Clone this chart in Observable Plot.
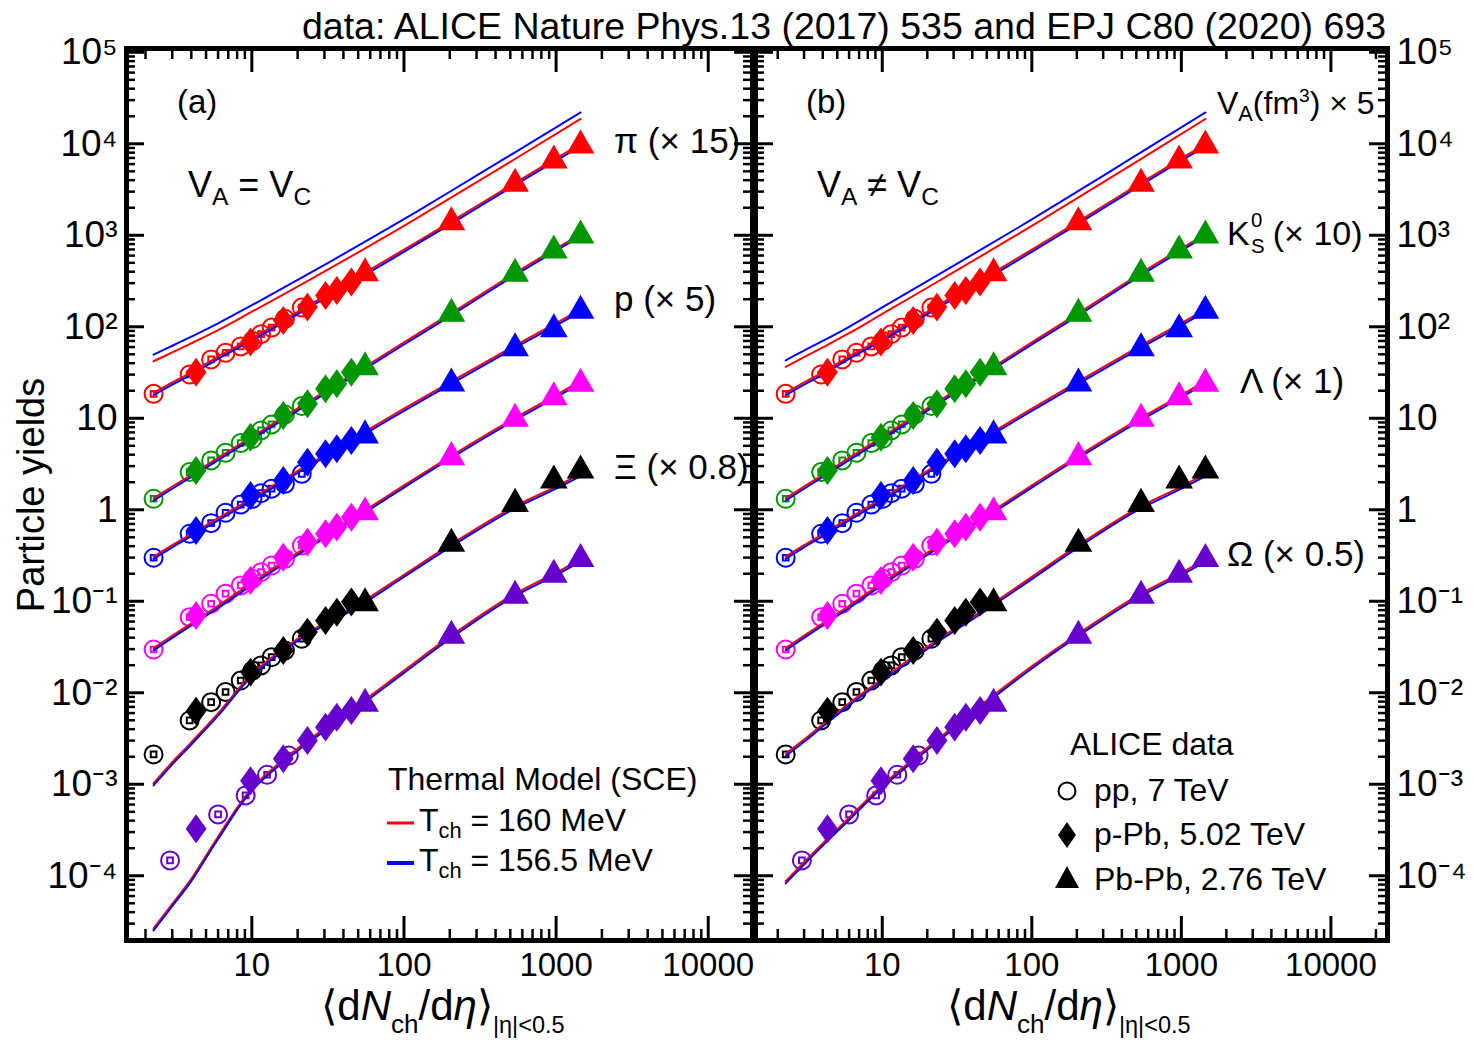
<!DOCTYPE html>
<html><head><meta charset="utf-8">
<script src="https://cdn.jsdelivr.net/npm/d3@7"></script>
<script src="https://cdn.jsdelivr.net/npm/@observablehq/plot@0.6"></script>
<style>
body{margin:0;background:#fff;}
#chart{position:relative;width:1474px;height:1043px;background:#fff;font-family:"Liberation Sans",Arial,Helvetica,sans-serif;color:#000;overflow:hidden}
#chart svg.plt{position:absolute;left:0;top:0}
.t{position:absolute;white-space:nowrap;line-height:1}
.sb{font-size:0.68em;position:relative;top:0.32em}
.sbx{font-size:0.62em;position:relative;top:0.5em}
.sb2{font-size:0.56em;position:relative;top:0.55em}
.sp{font-size:0.6em;position:relative;top:-0.6em}
.stk{display:inline-block;position:relative;width:0.68em;height:1em}
.stk .u{position:absolute;left:0.06em;top:-0.05em;font-size:0.6em}
.stk .d{position:absolute;left:0.06em;top:1.21em;font-size:0.6em}
</style></head><body><div id="chart"></div><script>
// ---------- multiplicity classes <dNch/deta> ----------
const ppX      = [2.26, 3.90, 5.40, 6.72, 8.45, 10.1, 11.5, 13.5, 16.5, 21.3];
const ppOmegaX = [2.9, 6.0, 9.1, 12.6, 17.5];
const pPbX     = [4.3, 9.8, 16.1, 23.2, 30.5, 36.2, 45.1];
const PbPbX    = [55.5, 205, 537.5, 966, 1447.5];

// ---------- measured yields (scaled) ----------
const piPP   = [18.5, 30.1, 44.0, 52, 61, 70, 83, 98, 122, 162];
const piPPb  = [31.9, 68, 117, 164, 220, 249, 308];
const piPbPb = [385, 1390, 3657, 6560, 9580];

const k0PP   = [1.32, 2.58, 3.46, 4.2, 5.35, 5.97, 7.36, 8.56, 11.0, 13.6];
const k0PPb  = [2.69, 6.2, 10.7, 14.4, 21, 23.8, 31.9];
const k0PbPb = [36.1, 139, 380, 682, 995];

const pPP    = [0.299, 0.547, 0.714, 0.927, 1.14, 1.32, 1.52, 1.70, 1.92, 2.47];
const pPPb   = [0.594, 1.43, 2.09, 3.31, 4.09, 4.65, 5.72];
const pPbPb  = [6.5, 24, 58.4, 94, 150];

const lamPP   = [0.0297, 0.067, 0.094, 0.121, 0.149, 0.176, 0.208, 0.246, 0.291, 0.407];
const lamPPb  = [0.070, 0.169, 0.303, 0.443, 0.547, 0.646, 0.830];
const lamPbPb = [0.94, 3.76, 9.9, 17.0, 23.8];

const xiPP   = [0.00212, 0.00498, 0.00789, 0.0102, 0.0136, 0.0175, 0.0199, 0.0245, 0.029, 0.0389];
const xiPPb  = [0.0063, 0.0168, 0.029, 0.046, 0.0617, 0.076, 0.098];
const xiPbPb = [0.095, 0.425, 1.16, 2.09, 2.69];

const omPP   = [1.47e-4, 4.68e-4, 7.55e-4, 1.27e-3, 2.06e-3];
const omPPb  = [3.27e-4, 1.09e-3, 1.9e-3, 3.01e-3, 4.21e-3, 5.41e-3, 6.41e-3];
const omPbPb = [7.6e-3, 0.042, 0.115, 0.195, 0.29];

// ---------- thermal model (SCE) curves ----------
const modelX   = [2.26, 3, 4, 6, 10, 20, 50, 100, 200, 500, 1000, 1450];
const piModel  = [18.5, 24, 31, 46, 73, 142, 345, 680, 1350, 3400, 6750, 9700];
const k0Model  = [1.3, 1.75, 2.35, 3.6, 6.1, 12.5, 32, 66, 134, 350, 700, 1000];
const pModel   = [0.3, 0.4, 0.53, 0.79, 1.3, 2.6, 6.3, 12.4, 24, 57, 107, 150];
const lamModel = [0.03, 0.041, 0.056, 0.087, 0.155, 0.33, 0.86, 1.8, 3.7, 9.2, 17.5, 25];
const xiModelA = [0.001, 0.0017, 0.0028, 0.0058, 0.0155, 0.038, 0.09, 0.19, 0.4, 1.0, 1.75, 2.4];
const xiModelB = [0.0021, 0.003, 0.0044, 0.0075, 0.0138, 0.031, 0.083, 0.18, 0.39, 1.0, 1.75, 2.4];
const omModelA = [2.6e-5, 4.8e-5, 9.0e-5, 2.6e-4, 8.8e-4, 2.4e-3, 7.2e-3, 0.017, 0.04, 0.11, 0.2, 0.28];
const omModelB = [8.5e-5, 1.37e-4, 2.2e-4, 4.2e-4, 9.5e-4, 2.44e-3, 8.0e-3, 0.019, 0.042, 0.11, 0.2, 0.28];
// V_A (fm^3) x 5
const vol160A = [42, 52.5, 66, 92, 146, 275, 650, 1270, 2530, 6350, 12800, 18700];
const vol156A = [49.5, 62, 78, 109, 172, 325, 770, 1500, 2990, 7500, 15100, 22000];
const vol160B = [36.5, 46.5, 59.5, 85, 138, 267, 645, 1265, 2525, 6350, 12800, 18700];
const vol156B = [43, 55, 70, 100, 163, 315, 760, 1490, 2980, 7500, 15100, 22000];

// ---------- axes ----------
const yTickValues = [1e-4, 1e-3, 1e-2, 1e-1, 1, 10, 100, 1e3, 1e4, 1e5];
const xTickValues = [10, 100, 1000, 10000];

// ---------- styling ----------
const speciesColors = ["#ff0000", "#009600", "#0000ff", "#ff00ff", "#000000", "#6600cc"];
const RED = "#ff0000", BLUE = "#0000ff";

// build tables
const ppYs = [piPP, k0PP, pPP, lamPP, xiPP, omPP];
const ppXs = [ppX, ppX, ppX, ppX, ppX, ppOmegaX];
const pPbYs = [piPPb, k0PPb, pPPb, lamPPb, xiPPb, omPPb];
const PbPbYs = [piPbPb, k0PbPb, pPbPb, lamPbPb, xiPbPb, omPbPb];
const ppData = ppYs.flatMap((ys, s) => ys.map((y, i) => ({x: ppXs[s][i], y, c: speciesColors[s]})));
const pPbData = pPbYs.flatMap((ys, s) => ys.map((y, i) => ({x: pPbX[i], y, c: speciesColors[s]})));
const PbPbData = PbPbYs.flatMap((ys, s) => ys.map((y, i) => ({x: PbPbX[i], y, c: speciesColors[s]})));
function curves(models) {
  return models.flatMap((m, s) => m.map((y, i) => ({x: modelX[i], y, k: "s" + s})));
}
const modelsA = [piModel, k0Model, pModel, lamModel, xiModelA, omModelA];
const modelsB = [piModel, k0Model, pModel, lamModel, xiModelB, omModelB];
const volTable = (arr) => arr.map((y, i) => ({x: modelX[i], y}));

// a fatter diamond than d3's default (width/height ~ 0.72)
const fatDiamond = {
  draw(context, size) {
    const a = Math.sqrt(size / 1.44), b = 0.72 * a;
    context.moveTo(0, -a); context.lineTo(b, 0); context.lineTo(0, a); context.lineTo(-b, 0); context.closePath();
  }
};

const sup = {"0":"⁰","1":"¹","2":"²","3":"³","4":"⁴","5":"⁵","6":"⁶","7":"⁷","8":"⁸","9":"⁹","-":"⁻"};
function yFmt(d) {
  const e = Math.round(Math.log10(d));
  if (e === 0) return "1";
  if (e === 1) return "10";
  return "10" + String(e).split("").map(ch => sup[ch]).join("");
}

const chart = document.getElementById("chart");
const TOP = 48, BOTTOM = 940, H = 1043, W = 1474;
const yDomain = [1.96e-5, 1.1e5];

function panel(isA) {
  const left = isA ? 126 : 755, right = isA ? 752 : 1387;
  const xDomain = isA ? [1.5, 19540] : [1.42, 23900];
  const innerW = right - left, innerH = BOTTOM - TOP;
  const inX = v => v >= xDomain[0] && v <= xDomain[1];
  const inY = v => v >= yDomain[0] && v <= yDomain[1];
  const xMajor = [1, 10, 100, 1000, 10000, 100000].filter(inX);
  const xMinor = d3.range(0, 5).flatMap(e => d3.range(2, 10).map(m => m * 10 ** e)).filter(inX);
  const yMajor = d3.range(-5, 6).map(e => 10 ** e).filter(inY);
  const yMinor = d3.range(-5, 6).flatMap(e => d3.range(2, 10).map(m => m * 10 ** e)).filter(inY);
  const lines = curves(isA ? modelsA : modelsB);
  const v160 = volTable(isA ? vol160A : vol160B), v156 = volTable(isA ? vol156A : vol156B);
  const XL = 24, XS = 11, YL = 18, YS = 9;
  const svg = Plot.plot({
    width: W, height: H,
    marginLeft: left, marginRight: W - right, marginTop: TOP, marginBottom: H - BOTTOM,
    x: {type: "log", domain: xDomain},
    y: {type: "log", domain: yDomain},
    color: {type: "identity"},
    style: {background: "transparent", fontFamily: "'Liberation Sans', Arial, sans-serif", overflow: "visible"},
    marks: [
      // inward ticks on all four sides
      Plot.tickX(xMajor, {x: d => d, insetTop: innerH - XL, strokeWidth: 3}),
      Plot.tickX(xMajor, {x: d => d, insetBottom: innerH - XL, strokeWidth: 3}),
      Plot.tickX(xMinor, {x: d => d, insetTop: innerH - XS, strokeWidth: 2.5}),
      Plot.tickX(xMinor, {x: d => d, insetBottom: innerH - XS, strokeWidth: 2.5}),
      Plot.tickY(yMajor, {y: d => d, insetRight: innerW - YL, strokeWidth: 3}),
      Plot.tickY(yMajor, {y: d => d, insetLeft: innerW - YL, strokeWidth: 3}),
      Plot.tickY(yMinor, {y: d => d, insetRight: innerW - YS, strokeWidth: 2.5}),
      Plot.tickY(yMinor, {y: d => d, insetLeft: innerW - YS, strokeWidth: 2.5}),
      // pp: open circles with small systematic boxes
      Plot.dot(ppData, {x: "x", y: "y", r: 9, symbol: "circle", fill: "none", stroke: "c", strokeWidth: 2}),
      Plot.dot(ppData, {x: "x", y: "y", r: 3.2, symbol: "square", fill: "none", stroke: "c", strokeWidth: 2}),
      // thermal model curves
      Plot.line(v160, {x: "x", y: "y", stroke: RED, strokeWidth: 2, curve: "catmull-rom"}),
      Plot.line(v156, {x: "x", y: "y", stroke: BLUE, strokeWidth: 2, curve: "catmull-rom"}),
      Plot.line(lines, {x: "x", y: "y", z: "k", stroke: RED, strokeWidth: 2, dy: -1, curve: "catmull-rom"}),
      Plot.line(lines, {x: "x", y: "y", z: "k", stroke: BLUE, strokeWidth: 2, dy: 1.2, curve: "catmull-rom"}),
      // p-Pb diamonds and Pb-Pb triangles
      Plot.dot(pPbData, {x: "x", y: "y", r: 9.8, symbol: fatDiamond, fill: "c", stroke: "none"}),
      Plot.dot(PbPbData, {x: "x", y: "y", r: 10.3, symbol: "triangle", fill: "c", stroke: "none"}),
      // frame
      Plot.frame({strokeWidth: 5}),
      // tick labels
      Plot.axisX({ticks: xTickValues, tickSize: 0, tickPadding: 12, tickFormat: d => String(d), fontSize: 33, label: null}),
      Plot.axisY({ticks: yTickValues, anchor: isA ? "left" : "right", tickSize: 0, tickPadding: 9, tickFormat: yFmt, fontSize: 37, label: null})
    ]
  });
  svg.classList.add("plt");
  chart.appendChild(svg);
}
panel(true);
panel(false);

// ---------- text overlays ----------
function label(html, x, yc, size, extra = {}) {
  const d = document.createElement("div");
  d.className = "t";
  d.innerHTML = html;
  Object.assign(d.style, {left: x + "px", top: (yc - 0.5 * size) + "px", fontSize: size + "px"}, extra);
  chart.appendChild(d);
  return d;
}
function icon(inner, cx, cy) {
  const ns = "http://www.w3.org/2000/svg";
  const s = document.createElementNS(ns, "svg");
  s.setAttribute("width", 40); s.setAttribute("height", 40);
  s.setAttribute("viewBox", "-20 -20 40 40");
  s.style.position = "absolute"; s.style.left = (cx - 20) + "px"; s.style.top = (cy - 20) + "px";
  s.innerHTML = inner;
  chart.appendChild(s);
}

label("data: ALICE Nature Phys.13 (2017) 535 and EPJ C80 (2020) 693", 0, 27, 37.5, {left: "auto", right: (W - 1386) + "px"});
label("Particle yields", 31, 495, 38, {transform: "translate(-50%, 0) rotate(-90deg)", transformOrigin: "50% 50%"});

// x-axis titles
const xt = '⟨d<i>N</i><span class="sbx">ch</span>/d<i>η</i>⟩<span class="sb2">|η|&lt;0.5</span>';
label(xt, 443, 1006, 42, {transform: "translateX(-50%)"});
label(xt, 1069, 1006, 42, {transform: "translateX(-50%)"});

// panel (a)
label("(a)", 177, 101, 33);
label('V<span class="sb">A</span> = V<span class="sb">C</span>', 188, 185, 36);
label("π (× 15)", 614, 140, 35);
label("p (× 5)", 614, 298, 35);
label("Ξ (× 0.8)", 614, 466, 35);
label("Thermal Model (SCE)", 388, 779, 32);
label('T<span class="sb">ch</span> = 160 MeV', 419, 820, 32);
label('T<span class="sb">ch</span> = 156.5 MeV', 419, 860, 32);
icon('<line x1="-14" x2="13" y1="0" y2="0" stroke="' + RED + '" stroke-width="3"/>', 401, 823);
icon('<line x1="-14" x2="13" y1="0" y2="0" stroke="' + BLUE + '" stroke-width="4"/>', 401, 863);

// panel (b)
label("(b)", 806, 101, 33);
label('V<span class="sb">A</span> ≠ V<span class="sb">C</span>', 817, 185, 36);
label('V<span class="sb">A</span>(fm<span class="sp">3</span>) × 5', 1217, 103, 32);
label('K<span class="stk"><span class="u">0</span><span class="d">S</span></span>(× 10)', 1227, 228, 34);
label("Λ (× 1)", 1240, 380, 35);
label("Ω (× 0.5)", 1227, 553, 35);
label("ALICE data", 1070, 744, 32);
label("pp, 7 TeV", 1094, 790, 32);
label("p-Pb, 5.02 TeV", 1094, 834, 32);
label("Pb-Pb, 2.76 TeV", 1094, 879, 32);
icon('<circle r="8.5" fill="none" stroke="#000" stroke-width="2"/>', 1067, 791);
icon('<path d="M0,-13L9,0L0,13L-9,0Z" fill="#000"/>', 1067, 835);
icon('<path d="M0,-12L12,10L-12,10Z" fill="#000"/>', 1067, 878);
</script></body></html>
